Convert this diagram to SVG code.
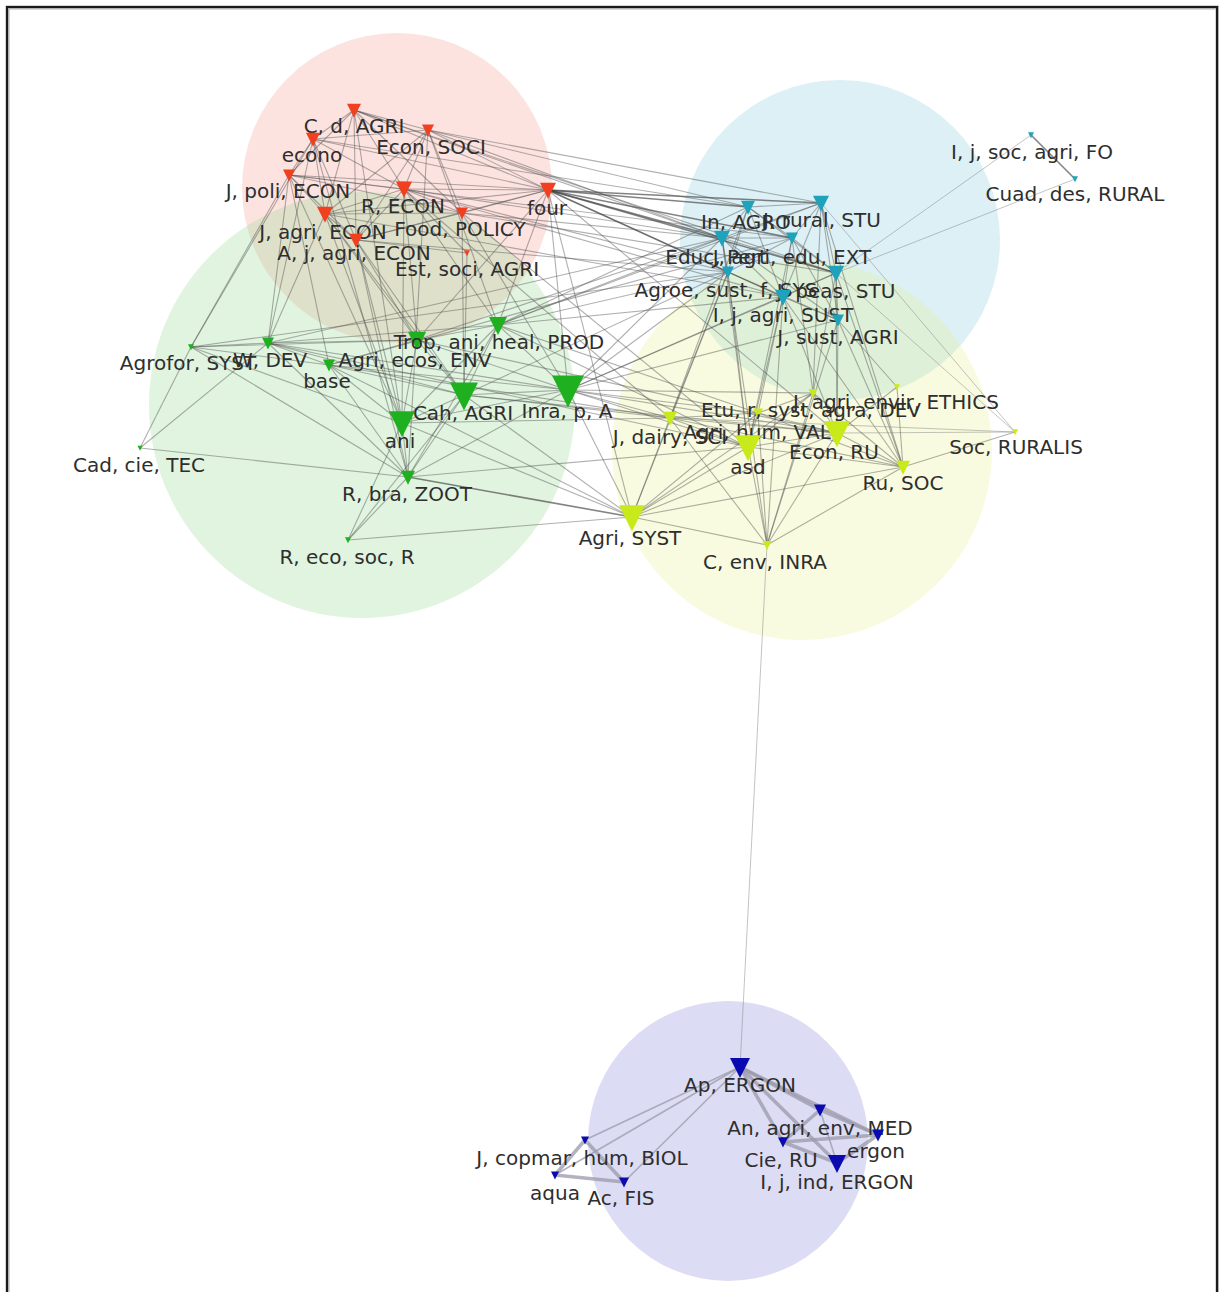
<svg xmlns="http://www.w3.org/2000/svg" xmlns:xlink="http://www.w3.org/1999/xlink" width="1219" height="1292" viewBox="0 0 1219 1292">
<style>
.hull{stroke:none;fill-opacity:0.3}
#edges line{stroke:#505050;stroke-opacity:0.45;stroke-width:1.1}
#edges line.d{stroke:#404040;stroke-opacity:0.65;stroke-width:1.6}
#edges line.l{stroke:#8a8a8a;stroke-opacity:0.5;stroke-width:1}
#edges line.t{stroke:#9a9aaa;stroke-opacity:0.75;stroke-width:3.5}
#edges line.tn{stroke:#9a9aaa;stroke-opacity:0.75;stroke-width:1.6}
.red{fill:#f04020}.cyan{fill:#1fa2bb}.green{fill:#1eb01e}.yellow{fill:#c8ea1a}.blue{fill:#0a0ab0}
text{font-family:"DejaVu Sans","Liberation Sans",sans-serif;font-size:20px;fill:#2e2e2e;text-anchor:middle}
</style>
<defs>
<path id="tri" d="M-0.5,-0.45 L0.5,-0.45 L0,0.55 Z"/>
</defs>
<rect x="0" y="0" width="1219" height="1292" fill="#ffffff"/>
<rect x="7.5" y="7.5" width="1210" height="1300" fill="none" stroke="#b0b0b0" stroke-width="4"/>
<rect x="7" y="7" width="1210" height="1300" fill="none" stroke="#1a1a1a" stroke-width="2"/>
<g id="clusters">
<circle class="hull" cx="397" cy="188" r="155" fill="rgb(248,162,148)"/>
<circle class="hull" cx="840" cy="240" r="160" fill="rgb(138,205,222)"/>
<circle class="hull" cx="362" cy="405" r="213" fill="rgb(152,218,152)"/>
<circle class="hull" cx="802" cy="450" r="190" fill="rgb(232,242,148)"/>
<circle class="hull" cx="728" cy="1141" r="140" fill="rgb(138,138,218)"/>
</g>
<g id="edges">
<line x1="354" y1="110" x2="313" y2="139"/><line x1="354" y1="110" x2="428" y2="130"/><line x1="354" y1="110" x2="289" y2="175"/><line x1="354" y1="110" x2="404" y2="189"/><line x1="354" y1="110" x2="548" y2="190"/><line x1="354" y1="110" x2="325" y2="214"/><line x1="354" y1="110" x2="462" y2="213"/><line x1="354" y1="110" x2="356" y2="240"/>
<line x1="313" y1="139" x2="428" y2="130"/><line x1="313" y1="139" x2="289" y2="175"/><line x1="313" y1="139" x2="404" y2="189"/><line x1="313" y1="139" x2="548" y2="190"/><line x1="313" y1="139" x2="325" y2="214"/><line x1="313" y1="139" x2="356" y2="240"/>
<line x1="428" y1="130" x2="404" y2="189"/><line x1="428" y1="130" x2="548" y2="190"/><line x1="428" y1="130" x2="325" y2="214"/><line x1="428" y1="130" x2="462" y2="213"/><line x1="428" y1="130" x2="356" y2="240"/>
<line x1="289" y1="175" x2="404" y2="189"/><line x1="289" y1="175" x2="548" y2="190"/><line x1="289" y1="175" x2="325" y2="214"/><line x1="289" y1="175" x2="462" y2="213"/><line x1="289" y1="175" x2="356" y2="240"/>
<line x1="404" y1="189" x2="548" y2="190"/><line x1="404" y1="189" x2="325" y2="214"/><line x1="404" y1="189" x2="462" y2="213"/><line x1="404" y1="189" x2="356" y2="240"/>
<line x1="548" y1="190" x2="325" y2="214"/><line x1="548" y1="190" x2="462" y2="213"/><line x1="548" y1="190" x2="356" y2="240"/>
<line x1="325" y1="214" x2="462" y2="213"/><line x1="325" y1="214" x2="356" y2="240"/><line x1="462" y1="213" x2="356" y2="240"/>
<line x1="467" y1="253" x2="404" y2="189"/><line x1="467" y1="253" x2="356" y2="240"/>
<line class="d" x1="548" y1="190" x2="748" y2="207"/><line class="d" x1="548" y1="190" x2="821" y2="203"/><line class="d" x1="548" y1="190" x2="722" y2="238"/><line class="d" x1="548" y1="190" x2="792" y2="238"/><line class="d" x1="548" y1="190" x2="728" y2="272"/><line class="d" x1="548" y1="190" x2="836" y2="273"/><line x1="548" y1="190" x2="783" y2="297"/>
<line x1="428" y1="130" x2="821" y2="203"/><line x1="428" y1="130" x2="722" y2="238"/><line x1="354" y1="110" x2="722" y2="238"/><line x1="313" y1="139" x2="748" y2="207"/><line x1="289" y1="175" x2="792" y2="238"/><line x1="404" y1="189" x2="722" y2="238"/><line x1="404" y1="189" x2="728" y2="272"/><line x1="404" y1="189" x2="783" y2="297"/><line x1="462" y1="213" x2="722" y2="238"/><line x1="462" y1="213" x2="836" y2="273"/><line x1="356" y1="240" x2="728" y2="272"/><line x1="325" y1="214" x2="783" y2="297"/><line x1="354" y1="110" x2="836" y2="273"/><line x1="428" y1="130" x2="748" y2="207"/>
<line x1="289" y1="175" x2="191" y2="347"/><line x1="289" y1="175" x2="268" y2="343"/><line x1="313" y1="139" x2="268" y2="343"/><line x1="289" y1="175" x2="329" y2="365"/><line x1="325" y1="214" x2="268" y2="343"/><line x1="325" y1="214" x2="402" y2="423"/><line x1="356" y1="240" x2="402" y2="423"/><line x1="356" y1="240" x2="408" y2="477"/><line x1="404" y1="189" x2="498" y2="325"/><line x1="404" y1="189" x2="417" y2="340"/><line x1="462" y1="213" x2="568" y2="390"/><line x1="462" y1="213" x2="464" y2="395"/><line x1="548" y1="190" x2="498" y2="325"/><line x1="548" y1="190" x2="568" y2="390"/><line x1="428" y1="130" x2="408" y2="477"/><line x1="354" y1="110" x2="402" y2="423"/><line x1="325" y1="214" x2="464" y2="395"/><line x1="356" y1="240" x2="464" y2="395"/><line x1="313" y1="139" x2="408" y2="477"/><line x1="289" y1="175" x2="402" y2="423"/><line x1="548" y1="190" x2="417" y2="340"/><line x1="467" y1="253" x2="464" y2="395"/><line x1="356" y1="240" x2="417" y2="340"/><line x1="325" y1="214" x2="417" y2="340"/><line x1="313" y1="139" x2="191" y2="347"/><line x1="404" y1="189" x2="402" y2="423"/><line x1="428" y1="130" x2="498" y2="325"/>
<line x1="548" y1="190" x2="837" y2="433"/><line x1="462" y1="213" x2="748" y2="447"/><line x1="404" y1="189" x2="670" y2="418"/><line x1="548" y1="190" x2="632" y2="517"/>
<line x1="191" y1="347" x2="140" y2="448"/><line x1="191" y1="347" x2="268" y2="343"/><line x1="191" y1="347" x2="417" y2="340"/><line x1="191" y1="347" x2="402" y2="423"/><line x1="191" y1="347" x2="408" y2="477"/>
<line x1="268" y1="343" x2="329" y2="365"/><line x1="268" y1="343" x2="417" y2="340"/><line x1="268" y1="343" x2="498" y2="325"/><line x1="268" y1="343" x2="464" y2="395"/><line x1="268" y1="343" x2="568" y2="390"/><line x1="268" y1="343" x2="408" y2="477"/><line x1="268" y1="343" x2="140" y2="448"/>
<line x1="329" y1="365" x2="417" y2="340"/><line x1="329" y1="365" x2="464" y2="395"/><line x1="329" y1="365" x2="568" y2="390"/><line x1="329" y1="365" x2="402" y2="423"/><line x1="329" y1="365" x2="408" y2="477"/>
<line x1="417" y1="340" x2="498" y2="325"/><line x1="417" y1="340" x2="464" y2="395"/><line x1="417" y1="340" x2="568" y2="390"/><line x1="417" y1="340" x2="402" y2="423"/>
<line x1="498" y1="325" x2="464" y2="395"/><line x1="498" y1="325" x2="568" y2="390"/><line x1="498" y1="325" x2="402" y2="423"/>
<line x1="464" y1="395" x2="568" y2="390"/><line x1="464" y1="395" x2="402" y2="423"/><line x1="464" y1="395" x2="408" y2="477"/><line x1="568" y1="390" x2="402" y2="423"/><line x1="568" y1="390" x2="408" y2="477"/>
<line x1="402" y1="423" x2="408" y2="477"/><line x1="402" y1="423" x2="348" y2="540"/><line x1="408" y1="477" x2="348" y2="540"/><line x1="408" y1="477" x2="140" y2="448"/><line x1="464" y1="395" x2="348" y2="540"/><line x1="191" y1="347" x2="329" y2="365"/><line x1="498" y1="325" x2="408" y2="477"/>
<line class="d" x1="408" y1="477" x2="632" y2="517"/><line x1="348" y1="540" x2="632" y2="517"/><line x1="568" y1="390" x2="670" y2="418"/><line x1="568" y1="390" x2="748" y2="447"/><line x1="568" y1="390" x2="837" y2="433"/><line x1="568" y1="390" x2="632" y2="517"/><line x1="464" y1="395" x2="632" y2="517"/><line x1="464" y1="395" x2="670" y2="418"/><line x1="498" y1="325" x2="748" y2="447"/><line x1="498" y1="325" x2="758" y2="413"/><line x1="402" y1="423" x2="632" y2="517"/><line x1="417" y1="340" x2="837" y2="433"/><line x1="329" y1="365" x2="670" y2="418"/><line x1="268" y1="343" x2="748" y2="447"/><line x1="568" y1="390" x2="813" y2="393"/><line x1="464" y1="395" x2="837" y2="433"/><line x1="402" y1="423" x2="670" y2="418"/><line x1="329" y1="365" x2="632" y2="517"/><line x1="568" y1="390" x2="758" y2="413"/><line x1="408" y1="477" x2="748" y2="447"/>
<line x1="498" y1="325" x2="722" y2="238"/><line x1="498" y1="325" x2="728" y2="272"/><line x1="498" y1="325" x2="783" y2="297"/><line x1="568" y1="390" x2="722" y2="238"/><line x1="568" y1="390" x2="783" y2="297"/><line x1="568" y1="390" x2="728" y2="272"/><line x1="498" y1="325" x2="748" y2="207"/><line x1="417" y1="340" x2="722" y2="238"/><line x1="464" y1="395" x2="728" y2="272"/><line x1="568" y1="390" x2="836" y2="273"/><line x1="568" y1="390" x2="838" y2="320"/><line x1="498" y1="325" x2="821" y2="203"/><line x1="329" y1="365" x2="792" y2="238"/><line x1="191" y1="347" x2="728" y2="272"/><line x1="268" y1="343" x2="722" y2="238"/>
<line x1="748" y1="207" x2="821" y2="203"/><line x1="748" y1="207" x2="722" y2="238"/><line x1="748" y1="207" x2="792" y2="238"/><line x1="748" y1="207" x2="728" y2="272"/><line x1="748" y1="207" x2="836" y2="273"/><line x1="748" y1="207" x2="783" y2="297"/>
<line x1="821" y1="203" x2="722" y2="238"/><line x1="821" y1="203" x2="792" y2="238"/><line x1="821" y1="203" x2="836" y2="273"/><line x1="821" y1="203" x2="783" y2="297"/><line x1="821" y1="203" x2="838" y2="320"/>
<line x1="722" y1="238" x2="792" y2="238"/><line x1="722" y1="238" x2="728" y2="272"/><line x1="722" y1="238" x2="836" y2="273"/><line x1="722" y1="238" x2="783" y2="297"/>
<line x1="792" y1="238" x2="728" y2="272"/><line x1="792" y1="238" x2="836" y2="273"/><line x1="792" y1="238" x2="783" y2="297"/><line x1="792" y1="238" x2="838" y2="320"/>
<line x1="728" y1="272" x2="783" y2="297"/><line x1="836" y1="273" x2="783" y2="297"/><line x1="836" y1="273" x2="838" y2="320"/><line x1="783" y1="297" x2="838" y2="320"/><line x1="722" y1="238" x2="838" y2="320"/><line x1="728" y1="272" x2="838" y2="320"/>
<line class="d" x1="1031" y1="135" x2="1075" y2="179"/><line class="l" x1="1031" y1="135" x2="836" y2="273"/><line class="l" x1="1075" y1="179" x2="836" y2="273"/>
<line x1="838" y1="320" x2="897" y2="387"/><line x1="838" y1="320" x2="837" y2="433"/><line x1="783" y1="297" x2="837" y2="433"/><line x1="783" y1="297" x2="758" y2="413"/><line x1="836" y1="273" x2="903" y2="467"/><line class="l" x1="836" y1="273" x2="1015" y2="432"/><line class="l" x1="821" y1="203" x2="1015" y2="432"/><line x1="838" y1="320" x2="903" y2="467"/><line x1="722" y1="238" x2="748" y2="447"/><line x1="783" y1="297" x2="767" y2="545"/><line x1="838" y1="320" x2="767" y2="545"/><line x1="728" y1="272" x2="748" y2="447"/><line x1="792" y1="238" x2="813" y2="393"/><line x1="836" y1="273" x2="813" y2="393"/><line x1="748" y1="207" x2="670" y2="418"/><line x1="728" y1="272" x2="632" y2="517"/><line x1="821" y1="203" x2="903" y2="467"/><line x1="836" y1="273" x2="837" y2="433"/><line x1="792" y1="238" x2="748" y2="447"/><line x1="722" y1="238" x2="767" y2="545"/><line x1="783" y1="297" x2="903" y2="467"/><line x1="821" y1="203" x2="813" y2="393"/><line x1="728" y1="272" x2="670" y2="418"/><line x1="783" y1="297" x2="748" y2="447"/>
<line x1="632" y1="517" x2="767" y2="545"/><line x1="632" y1="517" x2="670" y2="418"/><line x1="632" y1="517" x2="758" y2="413"/><line x1="632" y1="517" x2="837" y2="433"/><line x1="632" y1="517" x2="748" y2="447"/><line x1="632" y1="517" x2="903" y2="467"/><line x1="632" y1="517" x2="813" y2="393"/>
<line x1="767" y1="545" x2="670" y2="418"/><line x1="767" y1="545" x2="758" y2="413"/><line x1="767" y1="545" x2="813" y2="393"/><line x1="767" y1="545" x2="837" y2="433"/><line x1="767" y1="545" x2="748" y2="447"/><line x1="767" y1="545" x2="903" y2="467"/>
<line x1="670" y1="418" x2="758" y2="413"/><line x1="670" y1="418" x2="748" y2="447"/><line x1="670" y1="418" x2="837" y2="433"/><line x1="758" y1="413" x2="813" y2="393"/><line x1="758" y1="413" x2="837" y2="433"/><line x1="758" y1="413" x2="748" y2="447"/>
<line x1="813" y1="393" x2="837" y2="433"/><line x1="813" y1="393" x2="748" y2="447"/><line x1="837" y1="433" x2="748" y2="447"/><line x1="837" y1="433" x2="903" y2="467"/><line x1="748" y1="447" x2="903" y2="467"/>
<line x1="903" y1="467" x2="1015" y2="432"/><line class="l" x1="837" y1="433" x2="1015" y2="432"/><line x1="897" y1="387" x2="903" y2="467"/><line x1="897" y1="387" x2="837" y2="433"/><line x1="670" y1="418" x2="903" y2="467"/><line class="l" x1="670" y1="418" x2="1015" y2="432"/><line x1="813" y1="393" x2="903" y2="467"/><line x1="758" y1="413" x2="903" y2="467"/>
<line class="l" x1="767" y1="545" x2="740" y2="1067"/>
<line class="t" x1="740" y1="1067" x2="820" y2="1110"/><line class="t" x1="740" y1="1067" x2="878" y2="1135"/><line class="t" x1="740" y1="1067" x2="783" y2="1142"/><line class="t" x1="740" y1="1067" x2="837" y2="1163"/>
<line class="t" x1="820" y1="1110" x2="878" y2="1135"/><line class="t" x1="820" y1="1110" x2="783" y2="1142"/><line class="tn" x1="820" y1="1110" x2="837" y2="1163"/>
<line class="t" x1="878" y1="1135" x2="783" y2="1142"/><line class="t" x1="878" y1="1135" x2="837" y2="1163"/><line class="t" x1="783" y1="1142" x2="837" y2="1163"/>
<line class="tn" x1="740" y1="1067" x2="585" y2="1140"/><line class="tn" x1="740" y1="1067" x2="555" y2="1175"/><line class="tn" x1="740" y1="1067" x2="624" y2="1182"/>
<line class="t" x1="585" y1="1140" x2="555" y2="1175"/><line class="t" x1="555" y1="1175" x2="624" y2="1182"/><line class="t" x1="585" y1="1140" x2="624" y2="1182"/>
</g>
<g id="n-r1"><use href="#tri" class="red" transform="translate(354,110) scale(14)"/><text x="354" y="133">C, d, AGRI</text></g>
<g id="n-r2"><use href="#tri" class="red" transform="translate(313,139) scale(14)"/><text x="312" y="162">econo</text></g>
<g id="n-r3"><use href="#tri" class="red" transform="translate(428,130) scale(12)"/><text x="431" y="154">Econ, SOCI</text></g>
<g id="n-r4"><use href="#tri" class="red" transform="translate(289,175) scale(12)"/><text x="288" y="198">J, poli, ECON</text></g>
<g id="n-r5"><use href="#tri" class="red" transform="translate(404,189) scale(16)"/><text x="403" y="213">R, ECON</text></g>
<g id="n-r6"><use href="#tri" class="red" transform="translate(548,190) scale(16)"/><text x="547" y="215">four</text></g>
<g id="n-r7"><use href="#tri" class="red" transform="translate(325,214) scale(16)"/><text x="323" y="239">J, agri, ECON</text></g>
<g id="n-r8"><use href="#tri" class="red" transform="translate(462,213) scale(12)"/><text x="460" y="236">Food, POLICY</text></g>
<g id="n-r9"><use href="#tri" class="red" transform="translate(356,240) scale(14)"/><text x="354" y="260">A, j, agri, ECON</text></g>
<g id="n-r10"><use href="#tri" class="red" transform="translate(467,253) scale(6)"/><text x="467" y="276">Est, soci, AGRI</text></g>
<g id="n-c1"><use href="#tri" class="cyan" transform="translate(748,207) scale(14)"/><text x="746" y="229">In, AGRO</text></g>
<g id="n-c2"><use href="#tri" class="cyan" transform="translate(821,203) scale(16)"/><text x="822" y="227">J, rural, STU</text></g>
<g id="n-c3"><use href="#tri" class="cyan" transform="translate(722,238) scale(16)"/><text x="716" y="264">Educ, Pert</text></g>
<g id="n-c4"><use href="#tri" class="cyan" transform="translate(792,238) scale(12)"/><text x="792" y="264">J, agri, edu, EXT</text></g>
<g id="n-c5"><use href="#tri" class="cyan" transform="translate(728,272) scale(12)"/><text x="726" y="297">Agroe, sust, f, SYS</text></g>
<g id="n-c6"><use href="#tri" class="cyan" transform="translate(836,273) scale(16)"/><text x="836" y="298">J, peas, STU</text></g>
<g id="n-c7"><use href="#tri" class="cyan" transform="translate(783,297) scale(16)"/><text x="783" y="322">I, j, agri, SUST</text></g>
<g id="n-c8"><use href="#tri" class="cyan" transform="translate(838,320) scale(12)"/><text x="838" y="344">J, sust, AGRI</text></g>
<g id="n-c9"><use href="#tri" class="cyan" transform="translate(1031,135) scale(6)"/><text x="1032" y="159">I, j, soc, agri, FO</text></g>
<g id="n-c10"><use href="#tri" class="cyan" transform="translate(1075,179) scale(6)"/><text x="1075" y="201">Cuad, des, RURAL</text></g>
<g id="n-g1"><use href="#tri" class="green" transform="translate(191,347) scale(6)"/><text x="188" y="370">Agrofor, SYST</text></g>
<g id="n-g2"><use href="#tri" class="green" transform="translate(268,343) scale(12)"/><text x="270" y="367">W, DEV</text></g>
<g id="n-g3"><use href="#tri" class="green" transform="translate(329,365) scale(12)"/><text x="327" y="388">base</text></g>
<g id="n-g4"><use href="#tri" class="green" transform="translate(417,340) scale(18)"/><text x="415" y="367">Agri, ecos, ENV</text></g>
<g id="n-g5"><use href="#tri" class="green" transform="translate(498,325) scale(18)"/><text x="499" y="349">Trop, ani, heal, PROD</text></g>
<g id="n-g6"><use href="#tri" class="green" transform="translate(464,395) scale(28)"/><text x="463" y="420">Cah, AGRI</text></g>
<g id="n-g7"><use href="#tri" class="green" transform="translate(568,390) scale(32)"/><text x="567" y="418">Inra, p, A</text></g>
<g id="n-g8"><use href="#tri" class="green" transform="translate(402,423) scale(26)"/><text x="400" y="448">ani</text></g>
<g id="n-g9"><use href="#tri" class="green" transform="translate(408,477) scale(14)"/><text x="407" y="501">R, bra, ZOOT</text></g>
<g id="n-g10"><use href="#tri" class="green" transform="translate(348,540) scale(6)"/><text x="347" y="564">R, eco, soc, R</text></g>
<g id="n-g11"><use href="#tri" class="green" transform="translate(140,448) scale(5)"/><text x="139" y="472">Cad, cie, TEC</text></g>
<g id="n-y1"><use href="#tri" class="yellow" transform="translate(632,517) scale(26)"/><text x="630" y="545">Agri, SYST</text></g>
<g id="n-y2"><use href="#tri" class="yellow" transform="translate(767,545) scale(9)"/><text x="765" y="569">C, env, INRA</text></g>
<g id="n-y3"><use href="#tri" class="yellow" transform="translate(670,418) scale(14)"/><text x="670" y="444">J, dairy, SCI</text></g>
<g id="n-y4"><use href="#tri" class="yellow" transform="translate(758,413) scale(10)"/><text x="757" y="439">Agri, hum, VAL</text></g>
<g id="n-y5"><use href="#tri" class="yellow" transform="translate(813,393) scale(9)"/><text x="811" y="417">Etu, r, syst, agra, DEV</text></g>
<g id="n-y6"><use href="#tri" class="yellow" transform="translate(897,387) scale(6)"/><text x="896" y="409">J, agri, envir, ETHICS</text></g>
<g id="n-y7"><use href="#tri" class="yellow" transform="translate(837,433) scale(26)"/><text x="834" y="459">Econ, RU</text></g>
<g id="n-y8"><use href="#tri" class="yellow" transform="translate(748,447) scale(26)"/><text x="748" y="474">asd</text></g>
<g id="n-y9"><use href="#tri" class="yellow" transform="translate(903,467) scale(14)"/><text x="903" y="490">Ru, SOC</text></g>
<g id="n-y10"><use href="#tri" class="yellow" transform="translate(1015,432) scale(6)"/><text x="1016" y="454">Soc, RURALIS</text></g>
<g id="n-b1"><use href="#tri" class="blue" transform="translate(740,1067) scale(20)"/><text x="740" y="1092">Ap, ERGON</text></g>
<g id="n-b2"><use href="#tri" class="blue" transform="translate(820,1110) scale(12)"/><text x="820" y="1135">An, agri, env, MED</text></g>
<g id="n-b3"><use href="#tri" class="blue" transform="translate(878,1135) scale(12)"/><text x="876" y="1158">ergon</text></g>
<g id="n-b4"><use href="#tri" class="blue" transform="translate(783,1142) scale(10)"/><text x="781" y="1167">Cie, RU</text></g>
<g id="n-b5"><use href="#tri" class="blue" transform="translate(837,1163) scale(18)"/><text x="837" y="1189">I, j, ind, ERGON</text></g>
<g id="n-b6"><use href="#tri" class="blue" transform="translate(585,1140) scale(8)"/><text x="582" y="1165">J, copmar, hum, BIOL</text></g>
<g id="n-b7"><use href="#tri" class="blue" transform="translate(555,1175) scale(8)"/><text x="555" y="1200">aqua</text></g>
<g id="n-b8"><use href="#tri" class="blue" transform="translate(624,1182) scale(10)"/><text x="621" y="1205">Ac, FIS</text></g>
</svg>
